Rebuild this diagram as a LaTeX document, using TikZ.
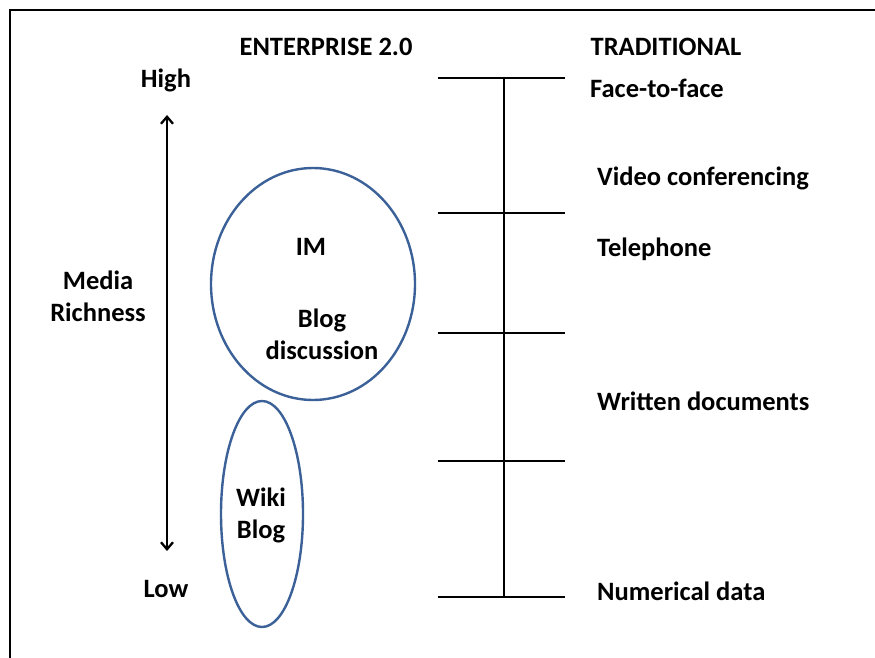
\documentclass[tikz,border=0pt]{standalone}
\usepackage{fontspec}
\setmainfont{Carlito}
\usetikzlibrary{arrows.meta}
\definecolor{ringblue}{HTML}{3B6198}
\tikzset{sbarb/.tip={Straight Barb[length=7pt,width=12pt]}}
\begin{document}
\begin{tikzpicture}[x=1pt,y=-1pt,
  lbl/.style={font=\bfseries\fontsize{26.5}{32}\selectfont, inner sep=0pt},
  rlbl/.style={lbl, anchor=west},
  rung/.style={line width=2.6pt},
  ring/.style={draw=ringblue, line width=2.4pt},
  frame/.style={line width=2.8pt}]
  \useasboundingbox (0,0) rectangle (875,658);
  % partial frame: top and left edges
  \coordinate (fl) at (10,700);
  \coordinate (fc) at (10,10);
  \coordinate (fr) at (900,10);
  \draw[frame] (fl) -- (fc) -- (fr);

  % column headings
  \node[lbl] (hent) at (326,47) {ENTERPRISE 2.0};
  \node[lbl] (htrad) at (666,47) {TRADITIONAL};

  % media richness scale
  \node[lbl] (high) at (166,80) {High};
  \node[lbl] (low) at (166,589) {Low};
  \coordinate (atop) at (167,115);
  \coordinate (abot) at (167,551);
  \draw[line width=2.3pt, sbarb-sbarb] (atop) -- (abot);
  \node[lbl, align=center] (mr) at (98,296) {Media\\Richness};

  % traditional ladder
  \foreach \n/\y in {r1/78, r2/213, r3/333, r4/461, r5/597}{
    \coordinate (\n w) at (438,\y);
    \coordinate (\n e) at (565,\y);
    \draw[rung] (\n w) -- (\n e);
  }
  \coordinate (spt) at (504,78);
  \coordinate (spb) at (504,597);
  \draw[rung] (spt) -- (spb);

  \node[rlbl] (f2f) at (590,88) {Face-to-face};
  \node[rlbl] (video) at (597,178) {Video conferencing};
  \node[rlbl] (tel) at (597,249) {Telephone};
  \node[rlbl] (docs) at (597,401) {Written documents};
  \node[rlbl] (num) at (597,591) {Numerical data};

  % enterprise 2.0 tools
  \coordinate (e1) at (313,284);
  \coordinate (e2) at (262,514);
  \draw[ring] (e1) ellipse [x radius=102, y radius=116];
  \draw[ring] (e2) ellipse [x radius=41, y radius=113];

  \node[lbl] (im) at (311,247) {IM};
  \node[lbl, align=center] (blogd) at (322,334) {Blog\\discussion};
  \node[lbl, align=center] (wiki) at (261,515) {Wiki\\Blog};
\end{tikzpicture}
\end{document}
